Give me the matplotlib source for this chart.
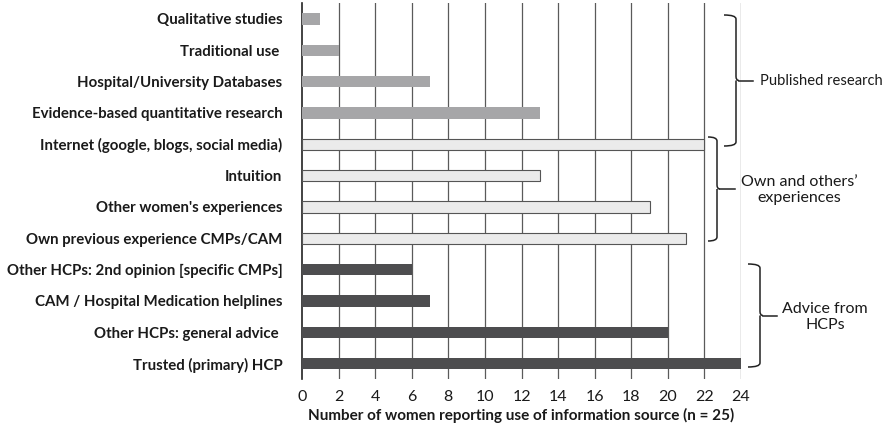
import matplotlib.pyplot as plt
from matplotlib.path import Path
from matplotlib.patches import PathPatch

plt.rcParams['font.family'] = ['Lato', 'DejaVu Sans']

# categories top to bottom
categories = [
    "Qualitative studies",
    "Traditional use ",
    "Hospital/University Databases",
    "Evidence-based quantitative research",
    "Internet (google, blogs, social media)",
    "Intuition",
    "Other women's experiences",
    "Own previous experience CMPs/CAM",
    "Other HCPs: 2nd opinion [specific CMPs]",
    "CAM / Hospital Medication helplines",
    "Other HCPs: general advice ",
    "Trusted (primary) HCP",
]
counts = [1, 2, 7, 13, 22, 13, 19, 21, 6, 7, 20, 24]
groups = ["pub"] * 4 + ["own"] * 4 + ["hcp"] * 4
group_colors = {"pub": "#a6a6a8", "own": "#ebebeb", "hcp": "#4d4d4f"}
xticks = list(range(0, 25, 2))

fig = plt.figure(figsize=(8.88, 4.32), dpi=100)
ax = fig.add_axes([302 / 888, 1 - 379 / 432, (741 - 302) / 888, 376 / 432])

n = len(categories)
ypos = [n - 1 - i for i in range(n)]
for y, v, g in zip(ypos, counts, groups):
    ec = "#555555" if g == "own" else "none"
    ax.barh(y, v, height=0.36, color=group_colors[g], edgecolor=ec, linewidth=0.8, zorder=3)

ax.set_xlim(0, 24)
ax.set_ylim(-0.49, n - 1 + 0.51)
ax.set_xticks(xticks)
ax.set_yticks(ypos)
ax.set_yticklabels(categories, fontweight="bold", fontsize=10.8, color="#1a1a1a")
ax.tick_params(axis="y", length=0, pad=14)
ax.tick_params(axis="x", length=0, pad=8, labelsize=11.5, colors="#1a1a1a")
for x in xticks[1:]:
    ax.axvline(x, color="#5a5a5a", lw=0.9, zorder=1)
for s in ["top", "right", "bottom"]:
    ax.spines[s].set_visible(False)
ax.spines["left"].set_color("#222222")
ax.spines["left"].set_linewidth(1.2)
ax.set_xlabel("Number of women reporting use of information source (n = 25)",
              fontweight="bold", fontsize=11, color="#1a1a1a", labelpad=3)

# overlay in pixel coords for braces and group labels
ov = fig.add_axes([0, 0, 1, 1])
ov.set_xlim(0, 888)
ov.set_ylim(432, 0)
ov.axis("off")


def brace(x0, x1, top, bottom, tip):
    mid = (top + bottom) / 2
    r = 4
    verts = [(x0, top), (x1, top), (x1, top + r),
             (x1, mid - r), (x1, mid), (x1 + 3, mid),
             (x1, mid), (x1, mid + r),
             (x1, bottom - r), (x1, bottom), (x0, bottom)]
    codes = [Path.MOVETO, Path.CURVE3, Path.CURVE3,
             Path.LINETO, Path.CURVE3, Path.CURVE3,
             Path.MOVETO, Path.CURVE3,
             Path.LINETO, Path.CURVE3, Path.CURVE3]
    ov.add_patch(PathPatch(Path(verts, codes), fill=False, lw=1.1, color="#222222"))
    ov.plot([x1 + 3, tip], [mid, mid], color="#222222", lw=1.1)


brace(724, 736, 15, 146, 753)
ov.text(760, 81, "Published research", fontsize=10.6, va="center", ha="left", color="#1a1a1a")
brace(708, 717, 137, 241, 735)
ov.text(799, 190, "Own and others\u2019\nexperiences", fontsize=11.5, va="center", ha="center",
        color="#1a1a1a", linespacing=1.25)
brace(748, 760, 264, 367, 777)
ov.text(825, 317, "Advice from\nHCPs", fontsize=11.5, va="center", ha="center",
        color="#1a1a1a", linespacing=1.25)

fig.savefig("out.png", dpi=100)
